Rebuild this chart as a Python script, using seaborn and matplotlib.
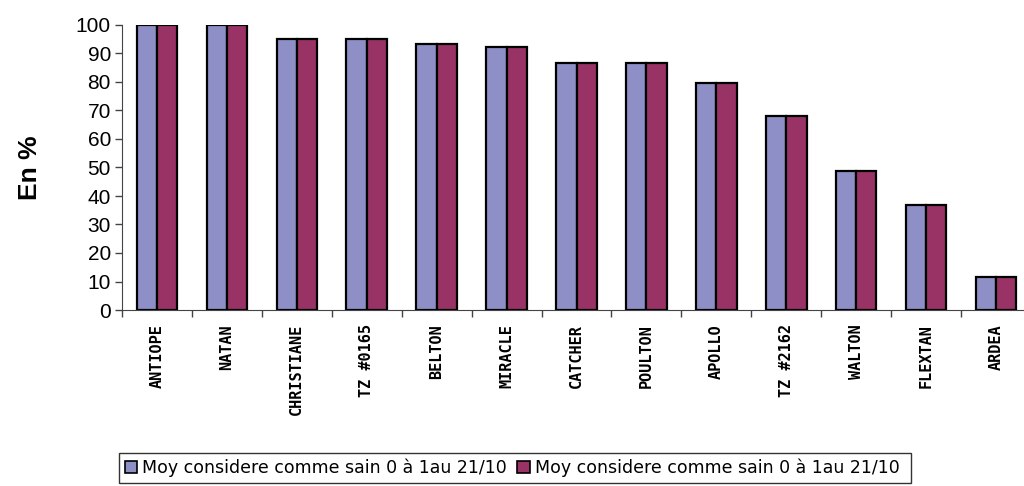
import pandas as pd
import matplotlib
matplotlib.use("Agg")
import matplotlib.pyplot as plt
import seaborn as sns

# Data
varieties = ["ANTIOPE", "NATAN", "CHRISTIANE", "TZ #0165", "BELTON", "MIRACLE",
             "CATCHER", "POULTON", "APOLLO", "TZ #2162", "WALTON", "FLEXTAN", "ARDEA"]
serie_1 = [100, 100, 95, 95, 93.3, 92.3, 86.5, 86.5, 79.7, 68, 48.6, 37, 11.7]
serie_2 = [100, 100, 95, 95, 93.3, 92.3, 86.5, 86.5, 79.7, 68, 48.6, 37, 11.7]
series_names = ["Moy considere comme sain 0 à 1au 21/10",
                "Moy considere comme sain 0 à 1au 21/10 "]
colors = ["#8f8fc8", "#993366"]

df = pd.DataFrame({
    "variete": varieties * 2,
    "valeur": serie_1 + serie_2,
    "serie": [series_names[0]] * len(varieties) + [series_names[1]] * len(varieties),
})

sns.set_style("white")
plt.rcParams["font.family"] = ["Liberation Sans", "DejaVu Sans"]
plt.rcParams["text.color"] = "black"
plt.rcParams["axes.labelcolor"] = "black"
plt.rcParams["xtick.color"] = "black"
plt.rcParams["ytick.color"] = "black"

fig = plt.figure(figsize=(10.24, 4.86), dpi=100)
ax = fig.add_axes([122 / 1024, 1 - 310 / 486, 909 / 1024, 285 / 486])

sns.barplot(data=df, x="variete", y="valeur", hue="serie", palette=colors,
            saturation=1, width=0.58, edgecolor="black", linewidth=1.6,
            ax=ax, legend=True)

ax.set_ylim(0, 100)
ax.set_xlim(-0.5, len(varieties) - 0.5)
ax.set_yticks(range(0, 101, 10))
ax.tick_params(axis="y", labelsize=15, length=5, width=1, direction="out",
               left=True, color="#444444", pad=3)
ax.set_xticks([i - 0.5 for i in range(len(varieties) + 1)], minor=False)
ax.set_xticklabels([""] * (len(varieties) + 1))
ax.tick_params(axis="x", length=5, width=1, bottom=True, color="#444444")
ax.set_xticks(range(len(varieties)), minor=True)
ax.set_xticklabels(varieties, minor=True, rotation=90, fontsize=11,
                   fontweight="bold", family="DejaVu Sans Mono", va="top")
ax.tick_params(axis="x", which="minor", length=0, pad=10)

for side in ["top", "right"]:
    ax.spines[side].set_visible(False)
ax.spines["left"].set_color("#444444")
ax.spines["bottom"].set_color("#444444")

ax.set_xlabel("")
ax.set_ylabel("En %", fontsize=19, fontweight="bold")
ax.yaxis.set_label_coords(-0.088, 0.5)

leg = ax.legend(loc="lower center", bbox_to_anchor=(515 / 1024, 0.0),
                bbox_transform=fig.transFigure, ncol=2,
                frameon=True, fancybox=False, edgecolor="black",
                handlelength=0.7, handleheight=0.7, handletextpad=0.3,
                columnspacing=0.6, borderpad=0.35, borderaxespad=0.15,
                prop={"family": "DejaVu Sans", "size": 12.5})
leg.get_frame().set_linewidth(1.0)
for h in leg.legend_handles:
    h.set_edgecolor("black")
    h.set_linewidth(1.2)

fig.savefig("out.png", dpi=100)
